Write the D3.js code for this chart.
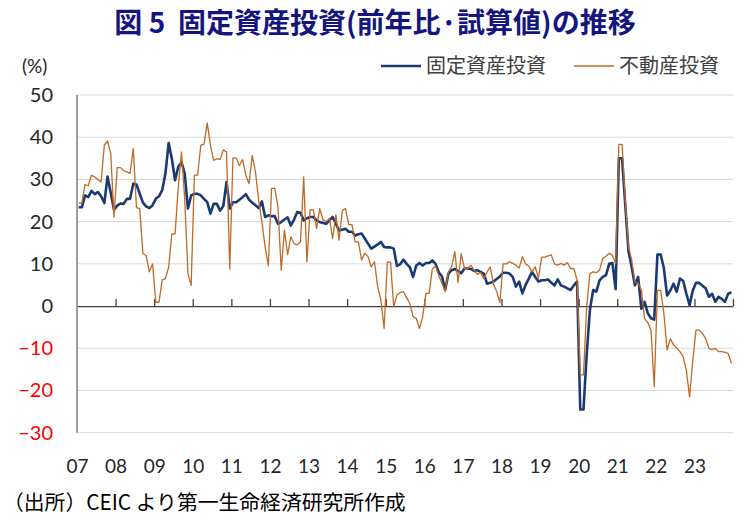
<!DOCTYPE html>
<html lang="ja">
<head>
<meta charset="utf-8">
<script src="https://cdn.jsdelivr.net/npm/d3@7/dist/d3.min.js"></script>
<style>
  body { margin: 0; background: #fff; }
  svg { display: block; }
</style>
</head>
<body>
<div id="graf"></div>
<script>
// Datos: mensual, 2007/01 - 2023/12 (前年比, %)
var years = ["07", "08", "09", "10", "11", "12", "13", "14", "15", "16", "17", "18", "19", "20", "21", "22", "23"];
var yTicks = [50, 40, 30, 20, 10, 0, -10, -20, -30];

// 固定資産投資
var fai = [
  23.4, 23.4, 26.2, 25.8, 27.3, 26.5, 27.0, 26.0, 24.4, 30.7, 26.8, 22.8,
  23.8, 24.3, 24.2, 25.4, 25.4, 29.0, 28.8, 26.6, 24.5, 23.6, 23.2, 23.9,
  25.4, 26.0, 27.5, 31.4, 38.6, 34.9, 29.8, 33.0, 34.1, 31.4, 23.1, 26.2,
  26.6, 26.6, 26.2, 25.4, 24.6, 21.9, 24.2, 24.2, 22.6, 23.7, 29.4, 23.1,
  24.6, 24.6, 25.2, 25.8, 26.5, 25.2, 24.5, 23.9, 23.2, 24.8, 21.1, 21.5,
  21.3, 21.3, 19.5, 19.9, 20.5, 21.0, 19.1, 20.5, 22.3, 22.1, 20.3, 20.8,
  21.1, 21.1, 20.3, 19.9, 19.7, 19.5, 20.3, 21.1, 19.5, 17.9, 18.1, 18.3,
  17.6, 17.6, 16.7, 17.0, 17.2, 16.0, 14.8, 13.6, 14.1, 14.6, 15.2, 14.0,
  13.9, 13.9, 13.6, 9.5, 9.9, 11.0, 10.0, 9.2, 6.9, 9.6, 10.2, 9.6,
  10.2, 10.2, 10.8, 10.0, 8.0, 7.0, 3.8, 7.7, 8.5, 8.8, 8.3, 7.8,
  8.9, 8.9, 8.8, 8.3, 8.5, 8.1, 7.7, 5.3, 5.5, 5.8, 6.4, 7.0,
  7.9, 7.9, 7.7, 6.9, 4.6, 5.8, 3.0, 5.0, 6.5, 8.1, 6.9, 5.8,
  6.1, 6.1, 6.3, 5.5, 4.9, 6.3, 4.9, 4.6, 4.2, 3.8, 4.9, 5.8,
  -24.5, -24.5, -11.5, -1.0, 3.8, 3.4, 6.1, 6.9, 7.3, 10.0, 10.2, 4.0,
  35.0, 35.0, 24.0, 13.0, 9.2, 4.9, 6.9, -0.6, 1.0, -1.7, -2.9, -3.2,
  12.2, 12.2, 9.0, 2.5, 3.7, 5.3, 3.4, 6.5, 6.0, 2.9, 0.2, 3.7,
  5.5, 5.5, 4.8, 4.2, 2.2, 2.9, 1.0, 2.2, 1.7, 1.0, 2.9, 3.3
];

// 不動産投資
var inmuebles = [
  24.4, 24.4, 28.8, 28.5, 31.0, 30.6, 30.0, 29.4, 38.1, 39.1, 36.1, 21.1,
  32.8, 32.8, 32.1, 31.8, 31.4, 37.3, 23.3, 23.1, 12.4, 12.0, 8.1, 10.0,
  0.9, 0.9, 6.2, 6.5, 9.2, 17.1, 17.1, 28.2, 36.5, 25.4, 7.7, 4.9,
  31.0, 31.0, 38.1, 38.3, 43.4, 38.1, 34.5, 34.9, 34.7, 37.0, 36.5, 8.8,
  35.1, 35.1, 33.3, 34.7, 31.0, 29.0, 35.7, 31.8, 25.0, 20.0, 14.0, 9.6,
  27.9, 27.9, 23.5, 8.5, 18.0, 12.2, 16.4, 14.8, 14.5, 15.2, 30.6, 10.5,
  22.8, 22.8, 18.4, 23.1, 20.4, 20.0, 20.8, 16.0, 21.6, 15.6, 22.6, 23.1,
  19.3, 19.3, 15.2, 15.2, 10.9, 12.5, 11.7, 9.3, 10.5, 4.6, 1.5, -5.3,
  10.4, 10.4, -0.2, 2.6, 3.2, 3.4, 2.0, 0.6, -2.5, -2.9, -5.3, -2.5,
  3.0, 3.0, 8.8, 9.5, 7.2, 5.4, 3.4, 8.1, 9.3, 12.9, 5.6, 12.4,
  8.9, 8.9, 9.7, 8.5, 7.5, 8.0, 6.5, 8.0, 9.3, 5.2, 3.5, 0.8,
  10.0, 10.0, 10.5, 10.1, 9.7, 9.0, 11.7, 10.0, 9.5, 8.1, 9.3, 6.6,
  11.6, 11.6, 11.9, 12.1, 10.0, 9.7, 10.1, 9.7, 10.3, 8.9, 8.9, 6.2,
  -16.3, -16.3, -0.2, 7.7, 8.1, 7.9, 8.5, 11.3, 11.8, 12.5, 12.0, 10.1,
  38.3, 38.3, 25.0, 14.1, 10.9, 5.8, 5.4, 3.8, -2.9, -3.9, -5.7, -19.1,
  3.7, 3.7, -1.7, -10.4, -7.7, -9.2, -10.0, -10.8, -12.0, -15.2, -21.5, -12.8,
  -5.7, -5.7, -6.5, -7.7, -10.0, -10.3, -10.0, -10.8, -10.8, -11.0, -11.2, -13.6
];

var ancho_total = 745;
var alto_total = 522;
var fuenteNum = "Lato, 'DejaVu Sans', sans-serif";
var fuenteJp = "'Noto Sans CJK JP', 'Noto Sans', sans-serif";

var svg = d3.select("#graf")
  .append("svg")
  .attr("width", ancho_total)
  .attr("height", alto_total);

// Escaladores
var x = d3.scaleLinear().domain([0, fai.length]).range([77, 733]);
var y = d3.scaleLinear().domain([-30, 50]).range([432.7, 95]);

// Título
svg.append("text")
  .attr("x", 375)
  .attr("y", 33)
  .attr("text-anchor", "middle")
  .attr("font-family", fuenteJp)
  .attr("font-weight", "bold")
  .attr("font-size", 28)
  .attr("fill", "#15157f")
  .style("white-space", "pre")
  .text("図 5  固定資産投資(前年比·試算値)の推移");

// (%)
svg.append("text")
  .attr("x", 22)
  .attr("y", 73)
  .attr("font-family", fuenteNum)
  .attr("font-size", 19)
  .attr("fill", "#262626")
  .text("(%)");

// Líneas de cuadrícula
svg.append("g")
  .selectAll("line")
  .data(yTicks.filter((d) => d != 0))
  .join("line")
  .attr("x1", x(0))
  .attr("x2", x(fai.length))
  .attr("y1", (d) => y(d))
  .attr("y2", (d) => y(d))
  .attr("stroke", "#d9d9d9")
  .attr("stroke-width", 1);

// Eje Y
var yAxis = svg.append("g")
  .attr("transform", `translate(${x(0)}, 0)`)
  .call(d3.axisLeft(y).tickValues(yTicks).tickSize(0).tickPadding(24));
yAxis.select(".domain").remove();
yAxis.selectAll("text")
  .attr("font-family", fuenteNum)
  .attr("font-size", 20)
  .attr("fill", (d) => (d < 0 ? "#ff0000" : "#262626"));

svg.append("line")
  .attr("x1", x(0))
  .attr("x2", x(0))
  .attr("y1", y(50))
  .attr("y2", y(-30))
  .attr("stroke", "#7f7f7f")
  .attr("stroke-width", 1.5);

// Eje X: línea de cero con marcas hacia arriba
var xTicks = svg.append("g")
  .attr("transform", `translate(0, ${y(0)})`)
  .call(
    d3.axisTop(x)
      .tickValues(d3.range(12, fai.length + 1, 12))
      .tickSize(7)
      .tickSizeOuter(0)
      .tickFormat("")
  );
xTicks.select(".domain").attr("stroke", "#404040").attr("stroke-width", 1.3);
xTicks.selectAll(".tick line").attr("stroke", "#404040").attr("stroke-width", 1.3);

// Etiquetas de años
var xLabels = svg.append("g")
  .attr("transform", "translate(0, 466)")
  .call(
    d3.axisBottom(x)
      .tickValues(d3.range(0, fai.length, 12))
      .tickSize(0)
      .tickFormat((d, i) => years[i])
  );
xLabels.select(".domain").remove();
xLabels.selectAll("text")
  .attr("y", 0)
  .attr("dy", "0.35em")
  .attr("font-family", fuenteNum)
  .attr("font-size", 19)
  .attr("fill", "#262626");

// Generador de líneas
var lineaGen = d3.line()
  .x((d, i) => x(i + 0.5))
  .y((d) => y(d));

svg.append("path")
  .attr("fill", "none")
  .attr("stroke", "#1b3a74")
  .attr("stroke-width", 2.6)
  .attr("stroke-linejoin", "round")
  .attr("d", lineaGen(fai));

svg.append("path")
  .attr("fill", "none")
  .attr("stroke", "#bf6a26")
  .attr("stroke-width", 1.3)
  .attr("stroke-linejoin", "round")
  .attr("d", lineaGen(inmuebles));

// Leyenda
var leyenda = [
  { name: "固定資産投資", color: "#1b3a74", width: 2.6, x: 381 },
  { name: "不動産投資", color: "#bf6a26", width: 1.3, x: 574 },
];
var items = svg.append("g")
  .selectAll("g")
  .data(leyenda)
  .join("g")
  .attr("transform", (d) => `translate(${d.x}, 66)`);
items.append("line")
  .attr("x1", 0)
  .attr("x2", 40)
  .attr("stroke", (d) => d.color)
  .attr("stroke-width", (d) => d.width);
items.append("text")
  .attr("x", 45)
  .attr("dy", "0.35em")
  .attr("font-family", fuenteJp)
  .attr("font-size", 20)
  .attr("fill", "#404040")
  .text((d) => d.name);

// Fuente
svg.append("text")
  .attr("x", 3)
  .attr("y", 510)
  .attr("font-family", fuenteJp)
  .attr("font-size", 20.8)
  .attr("fill", "#000")
  .text("（出所）CEIC より第一生命経済研究所作成");
</script>
</body>
</html>
